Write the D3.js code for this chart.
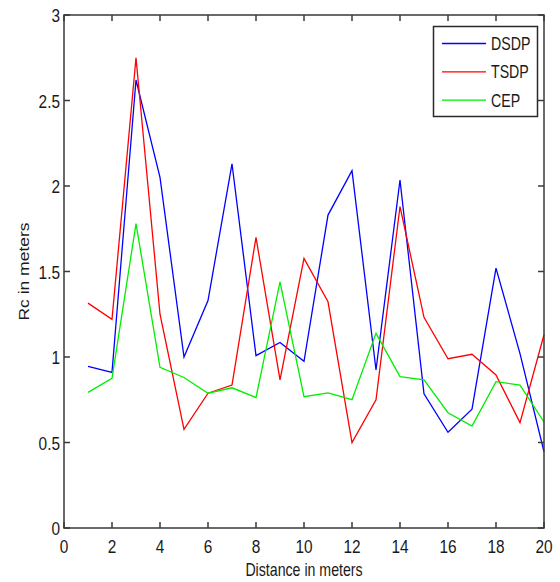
<!DOCTYPE html>
<html>
<head>
<meta charset="utf-8">
<script src="https://cdn.jsdelivr.net/npm/d3@7"></script>
<style>
  html, body { margin: 0; padding: 0; background: #fff; }
  svg { display: block; }
  text { font-family: "Liberation Sans", Arial, sans-serif; fill: #1a1a1a; }
</style>
</head>
<body>
<svg id="chart" width="560" height="582"></svg>
<script>
// Distance steps along the x axis
const distance = [1, 2, 3, 4, 5, 6, 7, 8, 9, 10, 11, 12, 13, 14, 15, 16, 17, 18, 19, 20];

// Rc values (meters) per method
const dsdp = [0.945, 0.91, 2.62, 2.05, 1.00, 1.33, 2.13, 1.008, 1.085, 0.975, 1.83, 2.09, 0.924, 2.035, 0.785, 0.56, 0.695, 1.52, 1.02, 0.446];
const tsdp = [1.315, 1.22, 2.75, 1.25, 0.577, 0.788, 0.836, 1.70, 0.866, 1.577, 1.323, 0.50, 0.75, 1.88, 1.232, 0.99, 1.016, 0.895, 0.616, 1.13];
const cep  = [0.793, 0.875, 1.78, 0.94, 0.88, 0.788, 0.82, 0.763, 1.44, 0.768, 0.79, 0.75, 1.138, 0.885, 0.866, 0.674, 0.596, 0.856, 0.836, 0.62];

const seriesNames = ["DSDP", "TSDP", "CEP"];
const seriesColors = ["#0000ff", "#ff0000", "#00ee00"];

const xTicks = [0, 2, 4, 6, 8, 10, 12, 14, 16, 18, 20];
const yTicks = [0, 0.5, 1, 1.5, 2, 2.5, 3];

const xLabel = "Distance in meters";
const yLabel = "Rc in meters";

const svg = d3.select("#chart");
const plot = { left: 64, right: 544, top: 15, bottom: 528 };
const squash = 0.81;   // narrow glyph width
const axisColor = "#3a3a3a";

const x = d3.scaleLinear().domain([0, 20]).range([plot.left, plot.right]);
const y = d3.scaleLinear().domain([0, 3]).range([plot.bottom, plot.top]);

// helper: text drawn with condensed width
function label(g, tx, ty, str, anchor, size) {
  return g.append("text")
    .attr("transform", `translate(${tx},${ty}) scale(${squash},1)`)
    .attr("text-anchor", anchor)
    .style("font-size", size + "px")
    .text(str);
}

// data lines
const series = [dsdp, tsdp, cep];
const line = d3.line().x((d, i) => x(distance[i])).y(d => y(d));
const lines = svg.append("g");
series.forEach((vals, k) => {
  lines.append("path")
    .datum(vals)
    .attr("fill", "none")
    .attr("stroke", seriesColors[k])
    .attr("stroke-width", 1.3)
    .attr("stroke-linejoin", "miter")
    .attr("d", line);
});

// box frame with inward ticks on all sides
const frame = svg.append("g").attr("stroke", axisColor).attr("stroke-width", 1.5).attr("fill", "none");
frame.append("rect")
  .attr("x", plot.left).attr("y", plot.top)
  .attr("width", plot.right - plot.left).attr("height", plot.bottom - plot.top);

const tickLen = 6;
xTicks.forEach(t => {
  frame.append("line").attr("x1", x(t)).attr("x2", x(t)).attr("y1", plot.bottom).attr("y2", plot.bottom - tickLen);
  frame.append("line").attr("x1", x(t)).attr("x2", x(t)).attr("y1", plot.top).attr("y2", plot.top + tickLen);
});
yTicks.forEach(t => {
  frame.append("line").attr("x1", plot.left).attr("x2", plot.left + tickLen).attr("y1", y(t)).attr("y2", y(t));
  frame.append("line").attr("x1", plot.right).attr("x2", plot.right - tickLen).attr("y1", y(t)).attr("y2", y(t));
});

// tick labels
const tickG = svg.append("g");
xTicks.forEach(t => label(tickG, x(t), 553, String(t), "middle", 19));
yTicks.forEach(t => label(tickG, 60, y(t) + 7, String(t), "end", 19));

// axis titles
label(svg, 304, 576, xLabel, "middle", 17.5);
svg.append("text")
  .attr("transform", `translate(29,${(plot.top + plot.bottom) / 2}) rotate(-90) scale(1,${squash})`)
  .attr("text-anchor", "middle")
  .style("font-size", "17.5px")
  .text(yLabel);

// legend
const leg = svg.append("g");
leg.append("rect")
  .attr("x", 433.5).attr("y", 26.5).attr("width", 104).attr("height", 90)
  .attr("fill", "#fff").attr("stroke", "#2a2a2a").attr("stroke-width", 1.5);
seriesNames.forEach((name, k) => {
  const ly = 43.5 + k * 28.3;
  leg.append("line")
    .attr("x1", 442).attr("x2", 486).attr("y1", ly).attr("y2", ly)
    .attr("stroke", seriesColors[k]).attr("stroke-width", 1.3);
  label(leg, 491, ly + 6.5, name, "start", 17.5);
});
</script>
</body>
</html>
